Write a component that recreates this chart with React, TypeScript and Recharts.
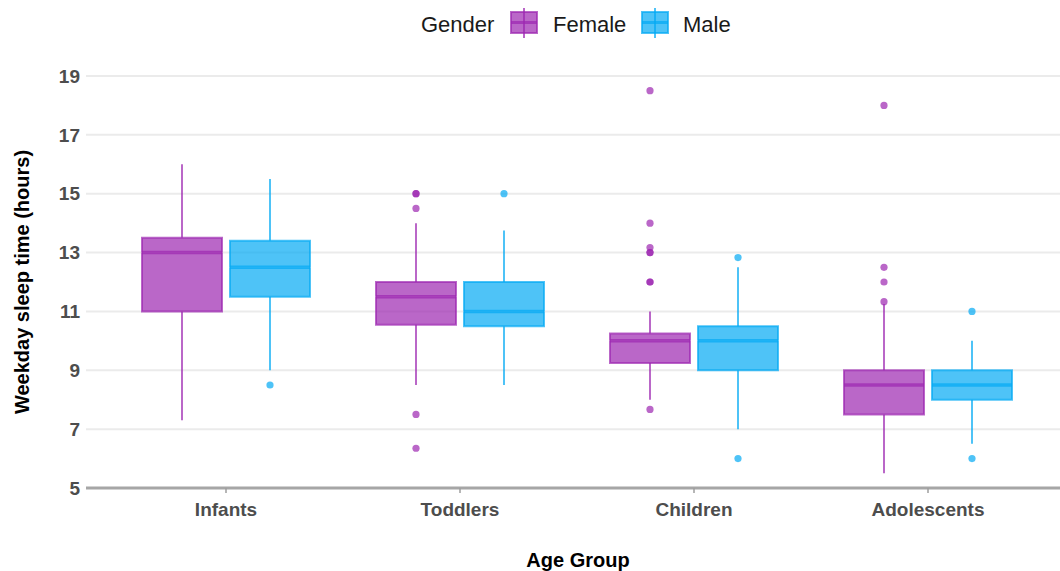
import React from 'react';
import { ComposedChart, Bar, Scatter, XAxis, YAxis, CartesianGrid } from 'recharts';

const groups = ['Infants', 'Toddlers', 'Children', 'Adolescents'];

// [lower whisker, Q1, median, Q3, upper whisker]
const femaleStats = [
  [7.3, 11, 13, 13.5, 16],
  [8.5, 10.55, 11.5, 12, 14],
  [8, 9.25, 10, 10.25, 11],
  [5.5, 7.5, 8.5, 9, 11.25],
];
const maleStats = [
  [9, 11.5, 12.5, 13.4, 15.5],
  [8.5, 10.5, 11, 12, 13.75],
  [7, 9, 10, 10.5, 12.5],
  [6.5, 8, 8.5, 9, 10],
];

// outliers (repeated values show up darker in the original)
const femaleOutliers = [
  [],
  [15, 15, 14.5, 7.5, 6.35],
  [18.5, 14, 13.17, 13, 13, 12, 12, 7.67],
  [18, 12.5, 12, 11.33],
];
const maleOutliers = [
  [8.5],
  [15],
  [12.83, 6],
  [11, 6],
];

const yTicks = [5, 7, 9, 11, 13, 15, 17, 19];

const FEMALE = '#9C27B0';
const MALE = '#03A9F4';
const ALPHA = 0.7;
const BAR_SIZE = 80;
const BAR_GAP = 8;
const SHIFT = (BAR_SIZE + BAR_GAP) / 2;
const FONT = "'Liberation Sans', Arial, sans-serif";

const rows = groups.map((group, i) => {
  const [fl, fq1, fm, fq3, fh] = femaleStats[i];
  const [ml, mq1, mm, mq3, mh] = maleStats[i];
  return {
    group,
    fBase: fl, fLowW: fq1 - fl, fLowBox: fm - fq1, fUpBox: fq3 - fm, fUpW: fh - fq3,
    mBase: ml, mLowW: mq1 - ml, mLowBox: mm - mq1, mUpBox: mq3 - mm, mUpW: mh - mq3,
  };
});

const femalePoints = groups.flatMap((group, i) => femaleOutliers[i].map(v => ({ group, v })));
const malePoints = groups.flatMap((group, i) => maleOutliers[i].map(v => ({ group, v })));

const whisker = (color: string) => (props: any) => {
  const { x, y, width, height } = props;
  const cx = x + width / 2;
  return <line x1={cx} x2={cx} y1={y} y2={y + height} stroke={color} strokeWidth={2} strokeOpacity={ALPHA} />;
};

// lower half of the box: sides + bottom edge, plus the median line on top
const lowerBox = (color: string) => (props: any) => {
  const { x, y, width, height } = props;
  return (
    <g>
      <rect x={x} y={y} width={width} height={height} fill={color} fillOpacity={ALPHA} />
      <path
        d={`M${x},${y} L${x},${y + height} L${x + width},${y + height} L${x + width},${y}`}
        fill="none" stroke={color} strokeWidth={2} strokeOpacity={ALPHA}
      />
      <line x1={x} x2={x + width} y1={y} y2={y} stroke={color} strokeWidth={3.5} strokeOpacity={ALPHA} />
    </g>
  );
};

// upper half: sides + top edge
const upperBox = (color: string) => (props: any) => {
  const { x, y, width, height } = props;
  return (
    <g>
      <rect x={x} y={y} width={width} height={height} fill={color} fillOpacity={ALPHA} />
      <path
        d={`M${x},${y + height} L${x},${y} L${x + width},${y} L${x + width},${y + height}`}
        fill="none" stroke={color} strokeWidth={2} strokeOpacity={ALPHA}
      />
    </g>
  );
};

const dot = (color: string, dx: number) => (props: any) => {
  const { cx, cy } = props;
  return <circle cx={cx + dx} cy={cy} r={3.6} fill={color} fillOpacity={ALPHA} />;
};

const none = () => null;

function LegendKey({ x, color }: { x: number; color: string }) {
  return (
    <g>
      <line x1={x + 14} x2={x + 14} y1={8} y2={38} stroke={color} strokeWidth={2} strokeOpacity={ALPHA} />
      <rect x={x + 1} y={12} width={26} height={21} fill={color} fillOpacity={ALPHA} stroke={color} strokeWidth={2} strokeOpacity={ALPHA} />
      <line x1={x + 1} x2={x + 27} y1={22.5} y2={22.5} stroke={color} strokeWidth={3} strokeOpacity={ALPHA} />
    </g>
  );
}

export default function App() {
  return (
    <div style={{ position: 'absolute', left: 0, top: 0, width: 1060, height: 571, background: '#fff' }}>
      <svg width={1060} height={46} style={{ position: 'absolute', left: 0, top: 0 }}>
        <g fontFamily={FONT} fontSize={22} fill="#1A1A1A">
          <text x={421} y={32}>Gender</text>
          <LegendKey x={510} color={FEMALE} />
          <text x={553} y={32}>Female</text>
          <LegendKey x={641} color={MALE} />
          <text x={683} y={32}>Male</text>
        </g>
      </svg>
      <ComposedChart
        width={1060}
        height={571}
        data={rows}
        margin={{ top: 76, right: 0, bottom: 0, left: 0 }}
        barGap={BAR_GAP}
        barSize={BAR_SIZE}
      >
        <CartesianGrid vertical={false} stroke="#EBEBEB" strokeWidth={2} />
        <XAxis
          dataKey="group"
          allowDuplicatedCategory={false}
          padding={{ left: 23, right: 15 }}
          height={83}
          tickSize={5}
          tickMargin={10}
          tickLine={{ stroke: '#9E9E9E', strokeWidth: 1.5 }}
          axisLine={{ stroke: '#A6A6A6', strokeWidth: 3 }}
          tick={{ fill: '#4D4D4D', fontSize: 19, fontWeight: 'bold', fontFamily: FONT }}
          label={{
            content: (p: any) => {
              const vb = p.viewBox;
              return (
                <text x={vb.x + vb.width / 2 + 5} y={567} textAnchor="middle" fontFamily={FONT} fontSize={20} fontWeight="bold" fill="#000">
                  Age Group
                </text>
              );
            },
          }}
        />
        <YAxis
          type="number"
          domain={[5, 19]}
          allowDataOverflow
          ticks={yTicks}
          width={86}
          axisLine={false}
          tickLine={false}
          tickSize={4}
          tickMargin={2}
          tick={{ fill: '#4D4D4D', fontSize: 19, fontWeight: 'bold', fontFamily: FONT }}
          label={{
            content: (p: any) => {
              const vb = p.viewBox;
              const cy = vb.y + vb.height / 2;
              return (
                <text x={22} y={cy} transform={`rotate(-90, 22, ${cy})`} textAnchor="middle" dominantBaseline="central" fontFamily={FONT} fontSize={20} fontWeight="bold" fill="#000">
                  Weekday sleep time (hours)
                </text>
              );
            },
          }}
        />
        <Bar dataKey="fBase" stackId="f" shape={none} isAnimationActive={false} />
        <Bar dataKey="fLowW" stackId="f" shape={whisker(FEMALE)} isAnimationActive={false} />
        <Bar dataKey="fLowBox" stackId="f" shape={lowerBox(FEMALE)} isAnimationActive={false} />
        <Bar dataKey="fUpBox" stackId="f" shape={upperBox(FEMALE)} isAnimationActive={false} />
        <Bar dataKey="fUpW" stackId="f" shape={whisker(FEMALE)} isAnimationActive={false} />
        <Bar dataKey="mBase" stackId="m" shape={none} isAnimationActive={false} />
        <Bar dataKey="mLowW" stackId="m" shape={whisker(MALE)} isAnimationActive={false} />
        <Bar dataKey="mLowBox" stackId="m" shape={lowerBox(MALE)} isAnimationActive={false} />
        <Bar dataKey="mUpBox" stackId="m" shape={upperBox(MALE)} isAnimationActive={false} />
        <Bar dataKey="mUpW" stackId="m" shape={whisker(MALE)} isAnimationActive={false} />
        <Scatter data={femalePoints} dataKey="v" shape={dot(FEMALE, -SHIFT)} isAnimationActive={false} />
        <Scatter data={malePoints} dataKey="v" shape={dot(MALE, SHIFT)} isAnimationActive={false} />
      </ComposedChart>
    </div>
  );
}
